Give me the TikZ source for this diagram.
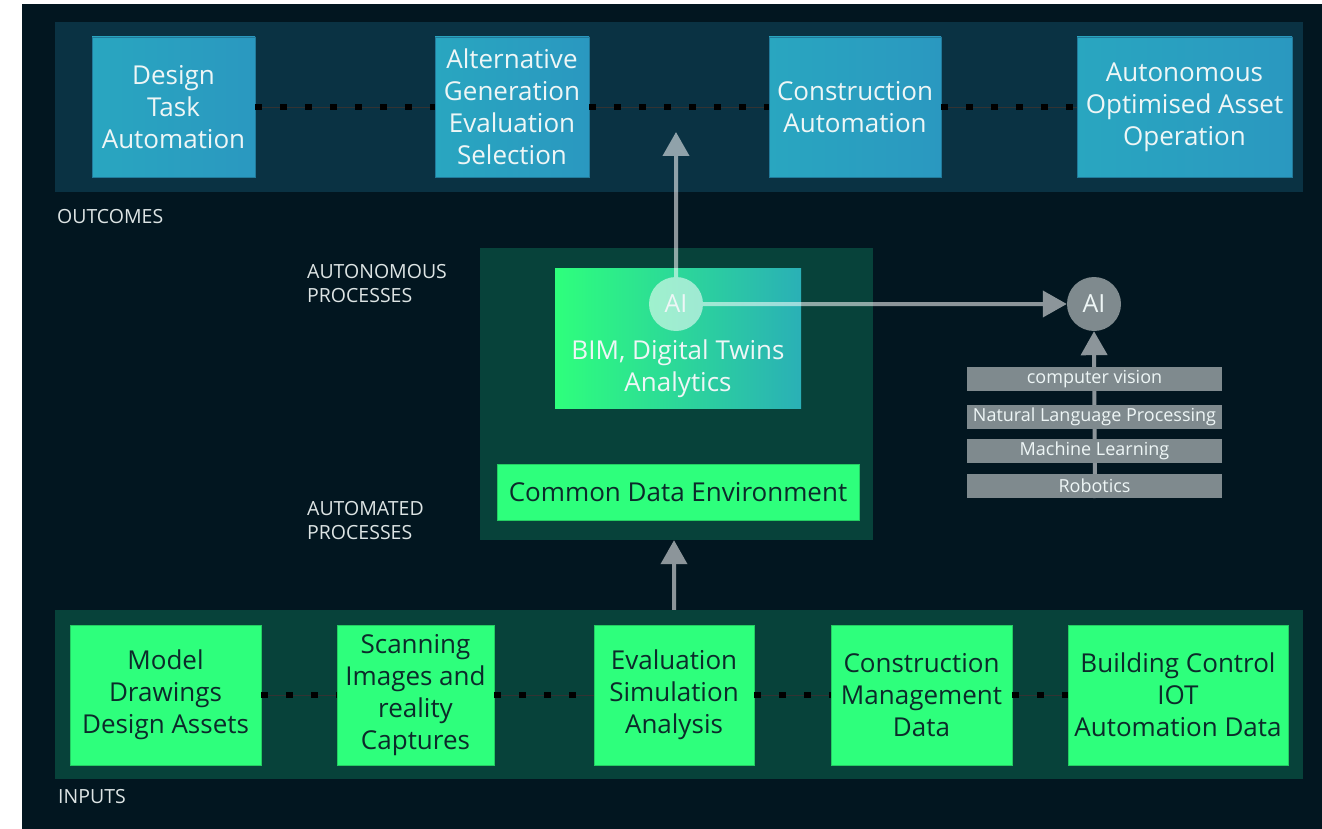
\documentclass[tikz,border=0pt]{standalone}
\usepackage{fontspec}
\setmainfont{Open Sans}
\usetikzlibrary{arrows.meta}
\definecolor{navy}{HTML}{021620}
\definecolor{outband}{HTML}{0A3243}
\definecolor{inband}{HTML}{07423A}
\definecolor{blueL}{HTML}{29A6C0}
\definecolor{blueR}{HTML}{2A98C0}
\definecolor{mint}{HTML}{2EFF7C}
\definecolor{teal}{HTML}{2AB0B6}
\definecolor{ink}{HTML}{0C2A2A}
\definecolor{greybox}{HTML}{7F8A8E}
\definecolor{paletext}{HTML}{EEF6F6}
\begin{document}
\begin{tikzpicture}[x=1pt,y=-1pt,
	band/.style={rectangle, inner sep=0pt, fill=#1},
	outbox/.style={rectangle, inner sep=0pt, minimum height=140pt, left color=blueL, right color=blueR,
		draw=blueR!80!black, line width=0.6pt, text=paletext, align=center, font=\fontsize{26}{32}\selectfont},
	inbox/.style={rectangle, inner sep=0pt, minimum height=140pt, fill=mint, draw=mint!80!black,
		line width=0.6pt, text=ink, align=center, font=\fontsize{26}{32}\selectfont},
	aitool/.style={rectangle, inner sep=0pt, minimum width=255pt, minimum height=24pt, fill=greybox,
		text=paletext, font=\fontsize{18}{20}\selectfont},
	tag/.style={inner sep=0pt, anchor=west, align=left, text=paletext!85!gray, font=\fontsize{19.5}{24}\selectfont},
	dots/.style={black, line width=6pt, dash pattern=on 7pt off 18pt,
		preaction={draw=black!80, line width=0.5pt, solid}},
	arr/.style={white, line width=4pt, -{Triangle[width=26pt,length=24pt]}},
	fade/.style={transparency group, opacity=0.55}]
	% page and background
	\fill[white] (0,0) rectangle (1322,829);
	\useasboundingbox (0,0) rectangle (1322,829);
	\fill[navy] (22,4) rectangle (1322,829);
	% bands
	\node[band=outband, minimum width=1248pt, minimum height=170pt] (outcomes) at (679,107) {};
	\node[band=inband, minimum width=393pt, minimum height=292pt] (processes) at (676.5,394) {};
	\node[band=inband, minimum width=1248pt, minimum height=169pt] (inputs) at (679,694.5) {};
	% labels
	\node[tag] (outtag) at (57,217) {OUTCOMES};
	\node[tag] (autotag) at (307,284) {AUTONOMOUS\\PROCESSES};
	\node[tag] (automtag) at (307,520.5) {AUTOMATED\\PROCESSES};
	\node[tag] (intag) at (58,797) {INPUTS};
	% outcomes
	\node[outbox, minimum width=163pt] (dta) at (173.5,107) {Design\\Task\\Automation};
	\node[outbox, minimum width=154pt] (agen) at (512,107) {Alternative\\Generation\\Evaluation\\Selection};
	\node[outbox, minimum width=172pt] (cauto) at (855,107) {Construction\\Automation};
	\node[outbox, minimum width=215pt] (aoao) at (1184.5,107) {Autonomous\\Optimised Asset\\Operation};
	\draw[dots] (dta.east) -- (agen.west);
	\draw[dots] (agen.east) -- (cauto.west);
	\draw[dots] (cauto.east) -- (aoao.west);
	% inputs
	\node[inbox, minimum width=191pt] (model) at (165.5,695) {Model\\Drawings\\Design Assets};
	\node[inbox, minimum width=157pt] (scan) at (415.5,695) {Scanning\\Images and\\reality\\Captures};
	\node[inbox, minimum width=160pt] (eval) at (674,695) {Evaluation\\Simulation\\Analysis};
	\node[inbox, minimum width=181pt] (cmd) at (921.5,695) {Construction\\Management\\Data};
	\node[inbox, minimum width=220pt] (bcd) at (1178,695) {Building Control\\IOT\\Automation Data};
	\draw[dots] (model.east) -- (scan.west);
	\draw[dots] (scan.east) -- (eval.west);
	\draw[dots] (eval.east) -- (cmd.west);
	\draw[dots] (cmd.east) -- (bcd.west);
	% processes
	\node[rectangle, inner sep=0pt, minimum width=246pt, minimum height=140pt, left color=mint, right color=teal] (bim) at (678,338) {};
	\node[text=paletext, align=center, font=\fontsize{26}{32}\selectfont] (bimtext) at (678,369) {BIM, Digital Twins\\Analytics};
	\node[inbox, minimum width=362pt, minimum height=56pt] (cde) at (678,492) {Common Data Environment};
	\node[circle, inner sep=0pt, minimum size=54pt, fill=white, fill opacity=0.55, text opacity=1,
		text=paletext, font=\fontsize{25}{28}\selectfont] (ai) at (676,304) {AI};
	% AI toolbox
	\coordinate (toolfoot) at (1095,498);
	\node[circle, inner sep=0pt, minimum size=54pt, fill=greybox, text=paletext, font=\fontsize{25}{28}\selectfont] (ai2) at (1094,304) {AI};
	\begin{scope}[fade]
		\draw[arr] (toolfoot) -- (ai2.south);
	\end{scope}
	\node[aitool] (cv) at (1094.5,379) {computer vision};
	\node[aitool] (nlp) at (1094.5,417) {Natural Language Processing};
	\node[aitool] (ml) at (1094.5,451) {Machine Learning};
	\node[aitool] (rob) at (1094.5,486) {Robotics};
	% arrows
	\coordinate (uptip) at (676,132);
	\begin{scope}[fade]
		\draw[arr] (ai.north) -- (uptip);
	\end{scope}
	\begin{scope}[fade]
		\draw[arr] (ai.east) -- (ai2.west);
	\end{scope}
	\begin{scope}[fade]
		\draw[arr] (inputs.north -| eval) -- (processes.south -| eval);
	\end{scope}
\end{tikzpicture}
\end{document}
